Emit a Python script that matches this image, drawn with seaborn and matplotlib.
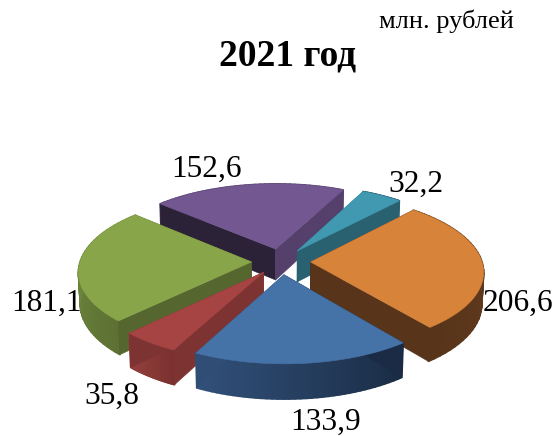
# 3D exploded pie, values per slice in million rubles
import numpy as np
import matplotlib
matplotlib.use("Agg")
import matplotlib.pyplot as plt
import seaborn as sns

# Data
labels = ["32,2", "206,6", "133,9", "35,8", "181,1", "152,6"]
values = [32.2, 206.6, 133.9, 35.8, 181.1, 152.6]

# Colours for each slice: top face, two walls, rim at start and end of the slice
top_colors = ["#4199b1", "#d78339", "#4572a7", "#a54442", "#88a54a", "#725790"]
start_wall = ["#2a6170", "#2c2238", "#1b2b45", "#7d3331", "#55662f", "#2c2238"]
end_wall = ["#2a6170", "#58341a", "#2f4d75", "#7d3331", "#55662f", "#54406a"]
rim_start = ["#2a6170", "#6b4120", "#1a2c44", "#7b3130", "#5c7133", "#54406a"]
rim_end = ["#2a6170", "#58341a", "#31507a", "#93403c", "#7d9647", "#54406a"]

# Label centres in pixels
label_x = [416, 518, 326, 112, 47, 207]
label_y = [184, 303, 422, 396, 303, 169]

# Camera settings, fitted against the picture
cx, cy, radius, tilt, persp, rot, explode, depth, persp_z = (
    281.03, 261.55, 171.36, 0.4402, 0.1163, 26.12, 0.1722, 31.71, 0.0092
)

sns.set_theme(style="white")
plt.rcParams["font.family"] = ["Liberation Serif", "DejaVu Serif"]

fig = plt.figure(figsize=(5.57, 4.36), dpi=100)
ax = fig.add_axes([0, 0, 1, 1])
ax.set_xlim(0, 557)
ax.set_ylim(436, 0)
ax.axis("off")

edges = np.cumsum([0] + values) / sum(values) * 360


def project(r, theta, idx, z=0.0):
    mid = np.radians((edges[idx] + edges[idx + 1]) / 2 + rot)
    t = np.radians(theta + rot)
    x = r * np.sin(t) + explode * np.sin(mid)
    y = r * np.cos(t) + explode * np.cos(mid)
    w = 1 + persp * y + persp_z * z
    return cx + radius * x / w, cy - radius * tilt * y / w + depth * z / w


def fill(points, color, lw=0.4):
    xs, ys = zip(*points)
    ax.fill(xs, ys, facecolor=color, edgecolor=color, linewidth=lw, joinstyle="round")


# Far slices first so the near ones paint over them
for idx in [5, 0, 4, 1, 3, 2]:
    thetas = np.linspace(edges[idx], edges[idx + 1], 40)
    rim_colors = sns.blend_palette([rim_start[idx], rim_end[idx]], len(thetas) - 1)

    # Rim goes under the walls, the back of it must not show over them
    for a, b, color in zip(thetas[:-1], thetas[1:], rim_colors):
        fill(
            [
                project(1, a, idx),
                project(1, b, idx),
                project(1, b, idx, 1),
                project(1, a, idx, 1),
            ],
            color,
            lw=1.2,
        )

    for theta, color in zip([edges[idx], edges[idx + 1]], [start_wall[idx], end_wall[idx]]):
        fill(
            [
                project(0, theta, idx),
                project(1, theta, idx),
                project(1, theta, idx, 1),
                project(0, theta, idx, 1),
            ],
            color,
        )

    top = [project(0, thetas[0], idx)] + [project(1, t, idx) for t in thetas]
    fill(top, top_colors[idx])

for text, x, y in zip(labels, label_x, label_y):
    ax.text(x, y, text, fontsize=22.6, color="black", ha="center", va="center")

ax.text(288, 56, "2021 год", fontsize=27, fontweight="bold", color="black", ha="center", va="center")
ax.text(446, 21, "млн. рублей", fontsize=19, color="black", ha="center", va="center")

fig.savefig("out.png", dpi=100)
